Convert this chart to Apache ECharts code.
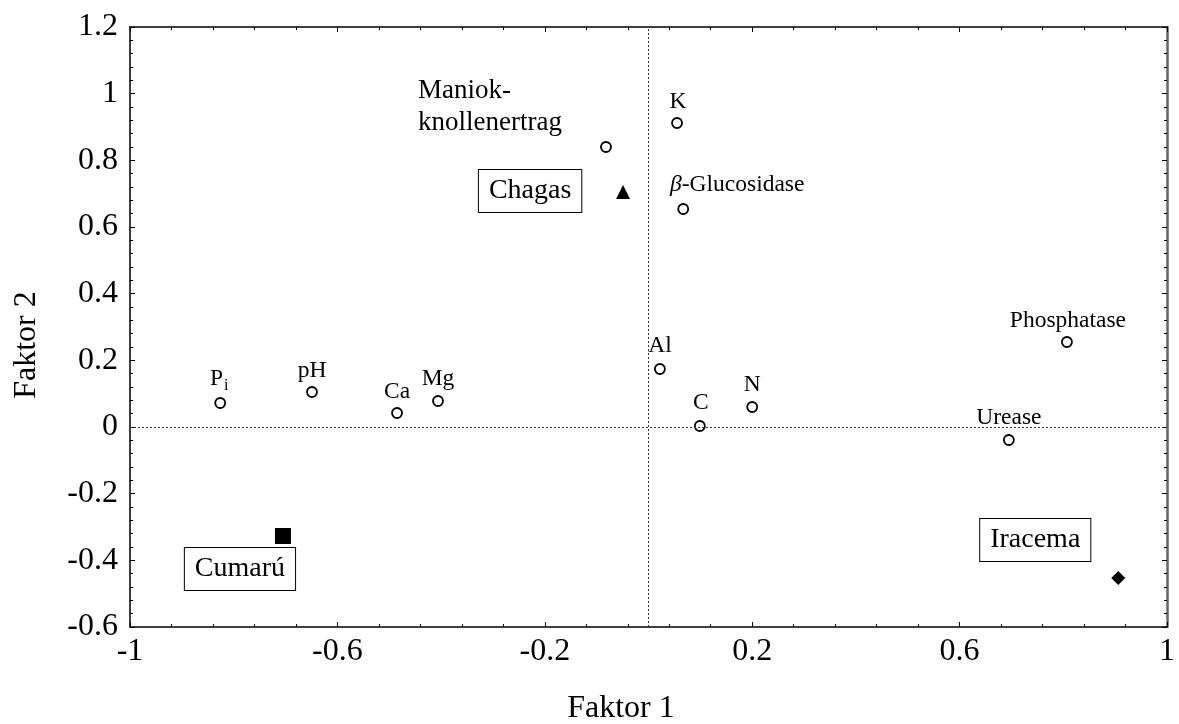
<!DOCTYPE html>
<html>
<head>
<meta charset="utf-8">
<script src="https://cdn.jsdelivr.net/npm/echarts@6/dist/echarts.min.js"></script>
<style>
  html, body { margin: 0; padding: 0; background: #fff; }
  #chart { width: 1179px; height: 724px; }
</style>
</head>
<body>
<div id="chart"></div>
<script>
// Factor loadings of the soil variables (open circles)
const varNames  = ['Pi', 'pH', 'Ca', 'Mg', 'Maniokknollenertrag', 'K', 'beta-Glucosidase', 'Al', 'C', 'N', 'Urease', 'Phosphatase'];
const varLabels = ['P{sub|i}', 'pH', 'Ca', 'Mg', '{big|Maniok-}\n{big|knollenertrag}', 'K', '{it|β}-Glucosidase', 'Al', 'C', 'N', 'Urease', 'Phosphatase'];
const varF1 = [-0.826, -0.649, -0.485, -0.406, -0.082, 0.055, 0.067, 0.022, 0.099, 0.200, 0.695, 0.807];
const varF2 = [ 0.072,  0.105,  0.042,  0.078,  0.840, 0.912, 0.654, 0.174, 0.003, 0.060, -0.039, 0.255];

// Factor scores of the sites
const siteNames   = ['Chagas', 'Cumarú', 'Iracema'];
const siteF1      = [-0.049, -0.705, 0.906];
const siteF2      = [ 0.705, -0.327, -0.453];
const siteSymbols = ['triangle', 'rect', 'diamond'];

// Axis ranges, tick steps and titles
const xMin = -1, xMax = 1, xStep = 0.4;
const yMin = -0.6, yMax = 1.2, yStep = 0.2;
const xTitle = 'Faktor 1';
const yTitle = 'Faktor 2';

// Label placement (pixel offsets from each marker)
const varLabelOffset = {
  'Pi': [-1, -24], 'pH': [0, -21], 'Ca': [0, -21], 'Mg': [0, -22],
  'Maniokknollenertrag': [-188, -40], 'K': [1, -21], 'beta-Glucosidase': [54, -24],
  'Al': [0, -23], 'C': [1, -23], 'N': [0, -22], 'Urease': [0, -22], 'Phosphatase': [1, -21]
};
const siteLabelOffset = { 'Chagas': [-93, -1], 'Cumarú': [-43, 33], 'Iracema': [-83, -38] };

const FONT = '"Liberation Serif", "DejaVu Serif", serif';

function fmt(v) {
  const r = Math.round(v * 100) / 100;
  return String(r);
}

const varData = varNames.map((n, i) => ({
  name: n,
  value: [varF1[i], varF2[i]],
  label: {
    formatter: varLabels[i],
    offset: varLabelOffset[n],
    align: n === 'Maniokknollenertrag' ? 'left' : 'center'
  }
}));

const siteData = siteNames.map((n, i) => ({
  name: n,
  value: [siteF1[i], siteF2[i]],
  symbol: siteSymbols[i],
  symbolSize: siteSymbols[i] === 'rect' ? 16 : 14,
  label: { offset: siteLabelOffset[n] }
}));

const axisCommon = {
  axisLine: { show: true, onZero: false, lineStyle: { color: '#000', width: 1.5 } },
  axisTick: { show: true, inside: true, length: 5, lineStyle: { color: '#000', width: 1 } },
  minorTick: { show: true, splitNumber: 5, length: 3, lineStyle: { color: '#000', width: 1 } },
  splitLine: { show: false },
  minorSplitLine: { show: false }
};

const option = {
  animation: false,
  backgroundColor: '#fff',
  grid: { left: 130, right: 12, top: 27, bottom: 97, containLabel: false, outerBoundsMode: 'none' },
  graphic: [
    {
      type: 'text', x: 621, y: 709, silent: true,
      style: { text: xTitle, font: '32px ' + FONT, fill: '#000', align: 'center', verticalAlign: 'middle' }
    },
    {
      type: 'text', x: 27, y: 345, rotation: Math.PI / 2, silent: true,
      style: { text: yTitle, font: '32px ' + FONT, fill: '#000', align: 'center', verticalAlign: 'middle' }
    }
  ],
  xAxis: [
    Object.assign({}, axisCommon, {
      type: 'value', min: xMin, max: xMax, interval: xStep, position: 'bottom',
      axisLabel: { fontFamily: FONT, fontSize: 32, color: '#000', margin: 9, formatter: fmt }
    }),
    Object.assign({}, axisCommon, {
      type: 'value', min: xMin, max: xMax, interval: xStep, position: 'top',
      axisLabel: { show: false }
    })
  ],
  yAxis: [
    Object.assign({}, axisCommon, {
      type: 'value', min: yMin, max: yMax, interval: yStep, position: 'left',
      axisLabel: { fontFamily: FONT, fontSize: 32, color: '#000', margin: 12, formatter: fmt }
    }),
    Object.assign({}, axisCommon, {
      type: 'value', min: yMin, max: yMax, interval: yStep, position: 'right',
      axisLine: { show: true, onZero: false, lineStyle: { color: '#666', width: 2.5 } },
      axisLabel: { show: false }
    })
  ],
  series: [
    {
      name: 'Variablen',
      type: 'scatter',
      xAxisIndex: 0, yAxisIndex: 0,
      symbol: 'circle',
      symbolSize: 10,
      itemStyle: { color: '#fff', borderColor: '#000', borderWidth: 1.8, opacity: 1 },
      label: {
        show: true,
        position: 'inside',
        fontFamily: FONT,
        fontSize: 23.5,
        color: '#000',
        rich: {
          sub: { fontFamily: FONT, fontSize: 16, color: '#000', verticalAlign: 'bottom', padding: [14, 0, 0, 1] },
          it: { fontFamily: FONT, fontSize: 23.5, fontStyle: 'italic', color: '#000' },
          big: { fontFamily: FONT, fontSize: 27, lineHeight: 32, color: '#000' }
        }
      },
      emphasis: { disabled: true },
      data: varData,
      markLine: {
        silent: true,
        symbol: 'none',
        animation: false,
        label: { show: false },
        lineStyle: { color: '#333', width: 1, type: [2, 2] },
        data: [{ xAxis: 0 }, { yAxis: 0 }]
      },
      z: 3
    },
    {
      name: 'Standorte',
      type: 'scatter',
      xAxisIndex: 0, yAxisIndex: 0,
      itemStyle: { color: '#000', opacity: 1 },
      label: {
        show: true,
        position: 'inside',
        formatter: '{b}',
        fontFamily: FONT,
        fontSize: 28,
        color: '#000',
        backgroundColor: '#fff',
        borderColor: '#000',
        borderWidth: 1,
        padding: [8, 10, 6, 10]
      },
      emphasis: { disabled: true },
      data: siteData,
      z: 4
    }
  ]
};

const chart = echarts.init(document.getElementById('chart'), null, { renderer: 'canvas' });
chart.setOption(option);
</script>
</body>
</html>
